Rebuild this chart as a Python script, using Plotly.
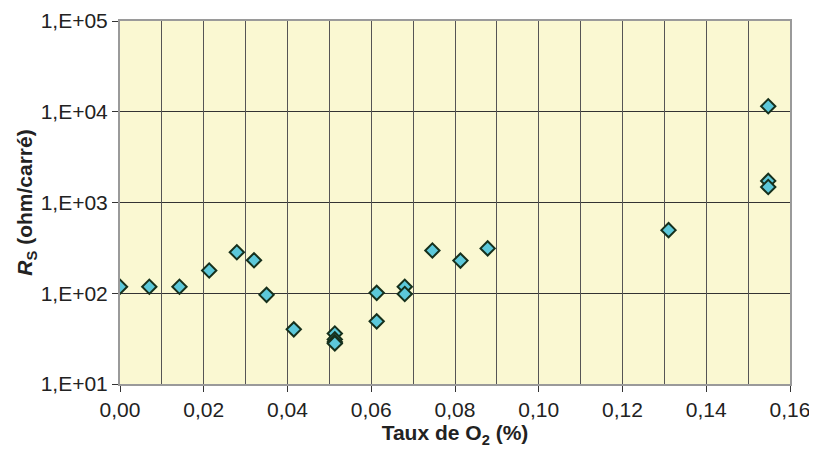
import plotly.graph_objects as go

# Taux de O2 (%) and sheet resistance Rs (ohm/carré)
o2_rate = [0.0000, 0.0070, 0.0142, 0.0213, 0.0279, 0.0320, 0.0350, 0.0415,
           0.0513, 0.0513, 0.0513, 0.0513, 0.0613, 0.0613, 0.0680, 0.0680,
           0.0746, 0.0813, 0.0878, 0.1310, 0.1548, 0.1548, 0.1548]
rs_values = [118, 118, 118, 178, 283, 231, 96, 40,
             36, 31, 29, 28, 101, 49, 118, 98,
             296, 229, 312, 496, 11500, 1730, 1480]

x_tickvals = [0.00, 0.02, 0.04, 0.06, 0.08, 0.10, 0.12, 0.14, 0.16]
x_ticktext = ["0,00", "0,02", "0,04", "0,06", "0,08", "0,10", "0,12", "0,14", "0,16"]
y_tickvals = [1e1, 1e2, 1e3, 1e4, 1e5]
y_ticktext = ["1,E+01", "1,E+02", "1,E+03", "1,E+04", "1,E+05"]

FONT = "Liberation Sans, Arial, sans-serif"

fig = go.Figure()
# invisible trace on overlay axis: provides vertical grid every 0.01
fig.add_trace(go.Scatter(x=[None], y=[None], xaxis="x2", showlegend=False, hoverinfo="skip"))
fig.add_trace(go.Scatter(
    x=o2_rate, y=rs_values, mode="markers",
    marker=dict(symbol="diamond", size=11, color="#5CC8DA",
                line=dict(color="#16301C", width=2)),
    showlegend=False,
))

fig.update_layout(
    width=809, height=442,
    margin=dict(l=112, r=27, t=13, b=66),
    paper_bgcolor="white",
    plot_bgcolor="#FAF8D2",
    font=dict(family=FONT, size=21, color="#222222"),
    xaxis=dict(
        range=[0, 0.16], automargin=False, ticklabeloverflow="allow",
        tickvals=x_tickvals, ticktext=x_ticktext,
        tickfont=dict(size=21, family=FONT, color="#222222"),
        ticks="outside", ticklen=6, tickcolor="#333333",
        showgrid=False,
        showline=True, linecolor="#9A9A9A", linewidth=2, mirror=True,
        zeroline=False,
        title=dict(text="<b>Taux de O<sub>2</sub> (%)</b>",
                   font=dict(size=21, family=FONT, color="#222222"),
                   standoff=0),
    ),
    xaxis2=dict(
        overlaying="x", range=[0, 0.16], dtick=0.01, tick0=0, automargin=False,
        showgrid=True, gridcolor="#555555", gridwidth=1,
        showticklabels=False, ticks="", zeroline=False, showline=False,
        layer="below traces",
    ),
    yaxis=dict(
        type="log", range=[1, 5], automargin=False, ticklabeloverflow="allow",
        tickvals=y_tickvals, ticktext=y_ticktext,
        tickfont=dict(size=21, family=FONT, color="#222222"),
        ticks="outside", ticklen=6, tickcolor="#333333",
        showgrid=True, gridcolor="#333333", gridwidth=1,
        showline=True, linecolor="#9A9A9A", linewidth=2, mirror=True,
        zeroline=False,
        title=dict(text="<b><i>R</i><sub>S</sub> (ohm/carré)</b>",
                   font=dict(size=21, family=FONT, color="#222222"),
                   standoff=2),
    ),
)

fig.write_html("out.html")
